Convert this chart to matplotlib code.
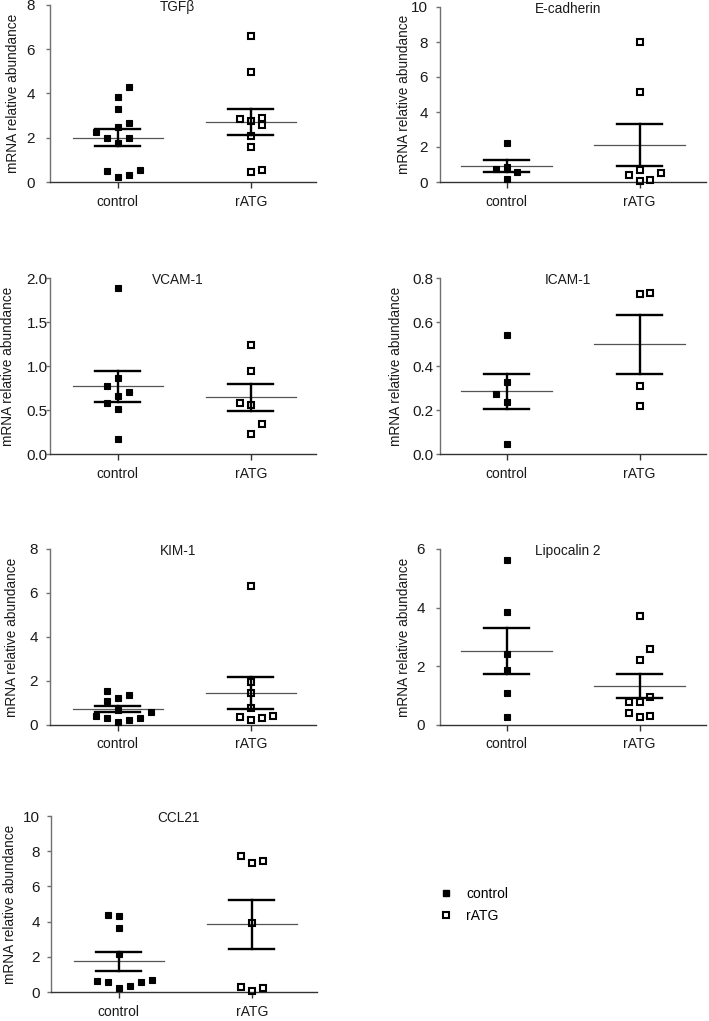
import numpy as np
import matplotlib
matplotlib.use('Agg')
import matplotlib.pyplot as plt
from matplotlib.lines import Line2D

plt.rcParams['font.family'] = ['Liberation Sans', 'DejaVu Sans']

# data (mRNA relative abundance)
titles = ['TGFβ', 'E-cadherin', 'VCAM-1', 'ICAM-1', 'KIM-1', 'Lipocalin 2', 'CCL21']
groups = ['control', 'rATG']

tgfb_ctrl = [4.29, 3.83, 3.32, 2.66, 2.50, 2.24, 1.98, 1.98, 1.76, 0.50, 0.56, 0.21, 0.30]
tgfb_ratg = [6.60, 4.96, 2.84, 2.77, 2.89, 2.56, 2.06, 1.56, 0.45, 0.54]
ecad_ctrl = [2.22, 0.74, 0.85, 0.55, 0.17]
ecad_ratg = [7.99, 5.12, 0.38, 0.66, 0.53, 0.04, 0.11]
vcam_ctrl = [1.887, 0.858, 0.775, 0.703, 0.662, 0.575, 0.514, 0.174]
vcam_ratg = [1.236, 0.941, 0.582, 0.552, 0.340, 0.227]
icam_ctrl = [0.542, 0.327, 0.271, 0.238, 0.044]
icam_ratg = [0.729, 0.734, 0.310, 0.219]
kim_ctrl = [1.54, 1.35, 1.24, 1.10, 0.70, 0.41, 0.60, 0.30, 0.30, 0.24, 0.14]
kim_ratg = [6.34, 1.94, 1.44, 0.79, 0.35, 0.21, 0.30, 0.39]
lcn_ctrl = [5.62, 3.84, 2.41, 1.89, 1.08, 0.27]
lcn_ratg = [3.72, 2.58, 2.21, 0.94, 0.78, 0.78, 0.41, 0.26, 0.32]
ccl_ctrl = [4.40, 4.33, 3.61, 2.16, 0.64, 0.55, 0.23, 0.32, 0.57, 0.70]
ccl_ratg = [7.73, 7.32, 7.45, 3.93, 0.28, 0.06, 0.21]

# horizontal scatter column of each point (as in the figure)
tgfb_ctrl_col = [1, 0, 0, 1, 0, -2, -1, 1, 0, -1, 2, 0, 1]
tgfb_ratg_col = [0, 0, -1, 0, 1, 1, 0, 0, 0, 1]
ecad_ctrl_col = [0, -1, 0, 1, 0]
ecad_ratg_col = [0, 0, -1, 0, 2, 0, 1]
vcam_ctrl_col = [0, 0, -1, 1, 0, -1, 0, 0]
vcam_ratg_col = [0, 0, -1, 0, 1, 0]
icam_ctrl_col = [0, 0, -1, 0, 0]
icam_ratg_col = [0, 1, 0, 0]
kim_ctrl_col = [-1, 1, 0, -1, 0, -2, 3, -1, 2, 1, 0]
kim_ratg_col = [0, 0, 0, 0, -1, 0, 1, 2]
lcn_ctrl_col = [0, 0, 0, 0, 0, 0]
lcn_ratg_col = [0, 1, 0, 1, -1, 0, -1, 0, 1]
ccl_ctrl_col = [-1, 0, 0, 0, -2, -1, 0, 1, 2, 3]
ccl_ratg_col = [-1, 0, 1, 0, -1, 0, 1]

ctrl = [tgfb_ctrl, ecad_ctrl, vcam_ctrl, icam_ctrl, kim_ctrl, lcn_ctrl, ccl_ctrl]
ratg = [tgfb_ratg, ecad_ratg, vcam_ratg, icam_ratg, kim_ratg, lcn_ratg, ccl_ratg]
ctrl_col = [tgfb_ctrl_col, ecad_ctrl_col, vcam_ctrl_col, icam_ctrl_col, kim_ctrl_col, lcn_ctrl_col, ccl_ctrl_col]
ratg_col = [tgfb_ratg_col, ecad_ratg_col, vcam_ratg_col, icam_ratg_col, kim_ratg_col, lcn_ratg_col, ccl_ratg_col]
ymax = [8, 10, 2.0, 0.8, 8, 6, 10]
ystep = [2, 2, 0.5, 0.2, 2, 2, 2]
yfmt = ['%d', '%d', '%.1f', '%.1f', '%d', '%d', '%d']

# layout in pixels (figure is 709 x 1021)
W, H = 709, 1021
spine_x = [50, 440, 50, 440, 50, 440, 51]
top_y = [5, 7, 278, 278, 549, 549, 816]
bot_y = [182, 182, 454, 454, 725, 725, 992]
label_gap = [15, 12, 2, 6, 12, 15, 11]
ylabel_x = [13, 404, 8, 396, 12, 404, 10]
ax_w = 266
slot = 0.0827

fig = plt.figure(figsize=(W / 100, H / 100), dpi=100)

for i in range(7):
    left = spine_x[i]
    ax = fig.add_axes([left / W, 1 - bot_y[i] / H, ax_w / W, (bot_y[i] - top_y[i]) / H])
    if i % 2 == 0:
        ax.set_xlim(0.49, 2.49)
    else:
        ax.set_xlim(0.50, 2.50)
    ax.set_ylim(0, ymax[i])
    ax.set_yticks(np.arange(0, ymax[i] + ystep[i] / 2, ystep[i]))
    ax.yaxis.set_major_formatter(matplotlib.ticker.FormatStrFormatter(yfmt[i]))
    ax.set_xticks([1, 2])
    ax.set_xticklabels(groups)
    for s in ['top', 'right']:
        ax.spines[s].set_visible(False)
    ax.spines['left'].set_color('#707070')
    ax.spines['bottom'].set_color('#333333')
    ax.spines['left'].set_linewidth(1.0)
    ax.spines['bottom'].set_linewidth(1.0)
    ax.tick_params(axis='y', length=3, width=1.0, color='#707070', labelsize=11,
                   labelcolor='#1a1a1a', pad=(label_gap[i] - 4) * 0.72)
    ax.tick_params(axis='x', length=4, width=1.0, color='#333333', labelsize=10,
                   labelcolor='#1a1a1a', pad=5)
    ax.set_ylabel('mRNA relative abundance', fontsize=9.8, color='#1a1a1a', va='center')
    ax.yaxis.set_label_coords((ylabel_x[i] - left) / ax_w, 0.5)
    ax.text(0.48, 0.99, titles[i], transform=ax.transAxes, ha='center', va='center',
            fontsize=9.8, color='#1a1a1a')

    for g, (vals, cols) in enumerate([(ctrl[i], ctrl_col[i]), (ratg[i], ratg_col[i])]):
        xc = g + 1
        v = np.array(vals)
        m = v.mean()
        sem = v.std(ddof=1) / np.sqrt(len(v))
        ax.plot([xc - 0.34, xc + 0.34], [m, m], color='#555555', lw=0.9, zorder=2)
        ax.plot([xc - 0.17, xc + 0.17], [m + sem, m + sem], color='black', lw=1.7, zorder=2)
        ax.plot([xc - 0.17, xc + 0.17], [m - sem, m - sem], color='black', lw=1.7, zorder=2)
        ax.plot([xc, xc], [m - sem, m + sem], color='black', lw=1.7, zorder=2)
        xs = xc + np.array(cols) * slot
        if g == 0:
            ax.plot(xs, v, 's', ms=5.0, mfc='black', mec='black', mew=0.8, zorder=3,
                    clip_on=False)
        else:
            ax.plot(xs, v, 's', ms=4.8, mfc='none', mec='black', mew=1.5, zorder=3,
                    clip_on=False)

handles = [Line2D([], [], ls='none', marker='s', ms=5.0, mfc='black', mec='black'),
           Line2D([], [], ls='none', marker='s', ms=4.8, mfc='none', mec='black', mew=1.5)]
fig.legend(handles, groups, loc='center left', bbox_to_anchor=(433 / W, 1 - 905 / H),
           frameon=False, fontsize=10, handlelength=1.0, handletextpad=1.0,
           labelspacing=0.55, borderaxespad=0)

fig.savefig('out.png', dpi=100)
